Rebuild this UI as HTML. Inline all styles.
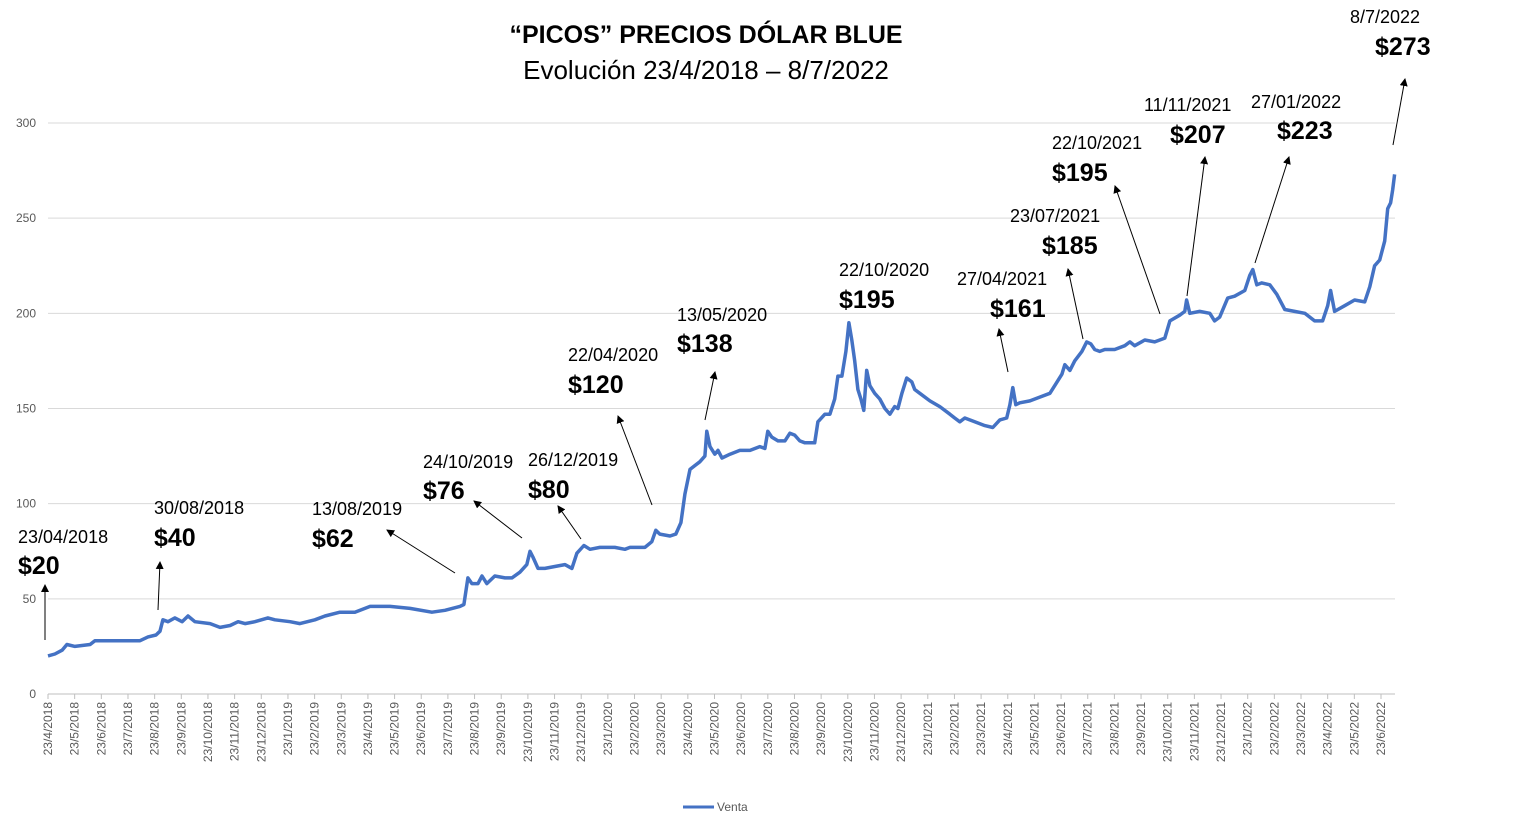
<!DOCTYPE html>
<html><head><meta charset="utf-8"><style>
body{margin:0;background:#fff;}
svg{display:block;font-family:"Liberation Sans",sans-serif;}
</style></head><body>
<svg id="chart" width="1536" height="831" viewBox="0 0 1536 831">
<defs><marker id="ah" markerWidth="8" markerHeight="8" refX="7" refY="4" orient="auto"><path d="M0,0 L8,4 L0,8 z" fill="#000"/></marker></defs>
<text x="706" y="43" text-anchor="middle" font-size="25" font-weight="bold">“PICOS” PRECIOS DÓLAR BLUE</text>
<text x="706" y="79" text-anchor="middle" font-size="26">Evolución 23/4/2018 – 8/7/2022</text>
<g id="grid"></g><g id="yaxis"></g><g id="xaxis"></g><g id="series"></g><g id="notes"></g>
<g>
<line x1="683" y1="807" x2="714" y2="807" stroke="#4472c4" stroke-width="3"/>
<text x="717" y="811" font-size="12" fill="#595959">Venta</text>
</g>
</svg>
<script>
const months=[0,0.26,0.53,0.71,1.01,1.58,1.76,2.33,2.89,3.45,3.75,4.05,4.2,4.31,4.5,4.76,5.03,5.25,5.51,6.08,6.45,6.83,7.13,7.39,7.76,8.25,8.51,9.08,9.45,10.01,10.39,10.95,11.51,12.08,12.83,13.58,14.4,14.89,15.45,15.6,15.75,15.9,16.13,16.28,16.46,16.76,17.14,17.4,17.7,17.96,18.08,18.19,18.38,18.64,19.01,19.39,19.65,19.84,20.1,20.33,20.7,21.26,21.64,21.83,22.39,22.65,22.8,22.95,23.33,23.55,23.74,23.89,24.08,24.26,24.45,24.64,24.71,24.83,25.01,25.13,25.28,25.58,25.95,26.33,26.7,26.89,27,27.15,27.38,27.64,27.83,28.01,28.2,28.39,28.76,28.88,29.14,29.33,29.51,29.63,29.78,29.93,30.04,30.15,30.26,30.38,30.49,30.6,30.71,30.83,31.01,31.2,31.39,31.58,31.76,31.88,32.03,32.21,32.4,32.51,32.7,33.08,33.45,33.83,34.01,34.2,34.39,34.76,35.14,35.44,35.7,35.96,36.08,36.19,36.3,36.45,36.83,37.2,37.58,37.76,38.03,38.14,38.33,38.51,38.78,38.96,39.11,39.26,39.45,39.64,40.01,40.39,40.58,40.76,41.14,41.51,41.89,42.08,42.45,42.64,42.71,42.83,43.2,43.58,43.76,43.95,44.25,44.51,44.89,45.08,45.19,45.34,45.53,45.83,46.09,46.39,46.76,47.14,47.51,47.81,48,48.11,48.26,48.64,49.01,49.39,49.58,49.76,49.95,50.14,50.25,50.36,50.44,50.51];
const venta=[20,21,23,26,25,26,28,28,28,28,30,31,33,39,38,40,38,41,38,37,35,36,38,37,38,40,39,38,37,39,41,43,43,46,46,45,43,44,46,47,61,58,58,62,58,62,61,61,64,68,75,72,66,66,67,68,66,74,78,76,77,77,76,77,77,80,86,84,83,84,90,105,118,120,122,125,138,130,126,128,124,126,128,128,130,129,138,135,133,133,137,136,133,132,132,143,147,147,155,167,167,180,195,186,175,160,155,149,170,162,158,155,150,147,151,150,158,166,164,160,158,154,151,147,145,143,145,143,141,140,144,145,152,161,152,153,154,156,158,162,168,173,170,175,180,185,184,181,180,181,181,183,185,183,186,185,187,196,199,201,207,200,201,200,196,198,208,209,212,220,223,215,216,215,210,202,201,200,196,196,204,212,201,204,207,206,214,225,228,238,255,258,265,273];
const yTicks=[0,50,100,150,200,250,300];
const monthNames=[];
for(let i=0;i<=50;i++){const mm=(3+i)%12+1;const yy=2018+Math.floor((3+i)/12);monthNames.push("23/"+mm+"/"+yy);}
const NS="http://www.w3.org/2000/svg";
const X0=48,X1=1395,MW=26.66,Y0=694,YTOP=123;
const xs=m=>X0+m*MW;
const ys=v=>Y0-(v/300)*(Y0-YTOP);
function mk(t,a,p){const e=document.createElementNS(NS,t);for(const k in a)e.setAttribute(k,a[k]);p.appendChild(e);return e;}
const grid=document.getElementById('grid'),ya=document.getElementById('yaxis'),xa=document.getElementById('xaxis');
yTicks.forEach(v=>{
 const l=mk('line',{x1:X0,x2:X1,y1:ys(v),y2:ys(v),stroke:v===0?'#bfbfbf':'#d9d9d9','stroke-width':1},grid);
 
 
 const t=mk('text',{x:36,y:ys(v)+4,'text-anchor':'end','font-size':12,fill:'#595959'},ya);
 t.textContent=v;
 
 
});
monthNames.forEach((n,i)=>{
 const x=xs(i);
 const tk=mk('line',{x1:x,x2:x,y1:Y0,y2:Y0+5,stroke:'#bfbfbf'},xa);
 
 
 const t=mk('text',{transform:`translate(${x+4},${Y0+8}) rotate(-90)`,'text-anchor':'end','font-size':12,fill:'#595959'},xa);
 t.textContent=n;
 
 
});
let d='';months.forEach((m,i)=>{d+=(i?'L':'M')+xs(m).toFixed(1)+','+ys(venta[i]).toFixed(1);});
const p=mk('path',{d:d,fill:'none',stroke:'#4472c4','stroke-width':3.5,'stroke-linejoin':'round'},document.getElementById('series'));


const notes=[
["23/04/2018",18,543,"$20",18,574,45,640,45,585],
["30/08/2018",154,514,"$40",154,546,158,610,160,562],
["13/08/2019",312,515,"$62",312,547,455,573,387,530],
["24/10/2019",423,468,"$76",423,499,522,538,474,501],
["26/12/2019",528,466,"$80",528,498,581,539,558,506],
["22/04/2020",568,361,"$120",568,393,652,505,618,416],
["13/05/2020",677,321,"$138",677,352,705,420,715,372],
["22/10/2020",839,276,"$195",839,308,null],
["27/04/2021",957,285,"$161",990,317,1008,372,999,329],
["23/07/2021",1010,222,"$185",1042,254,1083,339,1068,269],
["22/10/2021",1052,149,"$195",1052,181,1160,314,1115,186],
["11/11/2021",1144,111,"$207",1170,143,1187,296,1205,157],
["27/01/2022",1251,108,"$223",1277,139,1255,263,1289,157],
["8/7/2022",1350,23,"$273",1375,55,1393,145,1405,79]];
const ng=document.getElementById('notes');
notes.forEach(n=>{
 const g=mk('g',{},ng);
 
 
 mk('text',{x:n[1],y:n[2],'font-size':18},g).textContent=n[0];
 mk('text',{x:n[4],y:n[5],'font-size':25,'font-weight':'bold'},g).textContent=n[3];
 if(n[6]!==null)mk('line',{x1:n[6],y1:n[7],x2:n[8],y2:n[9],stroke:'#000','stroke-width':1,'marker-end':'url(#ah)'},g);
});
</script>
</body></html>
